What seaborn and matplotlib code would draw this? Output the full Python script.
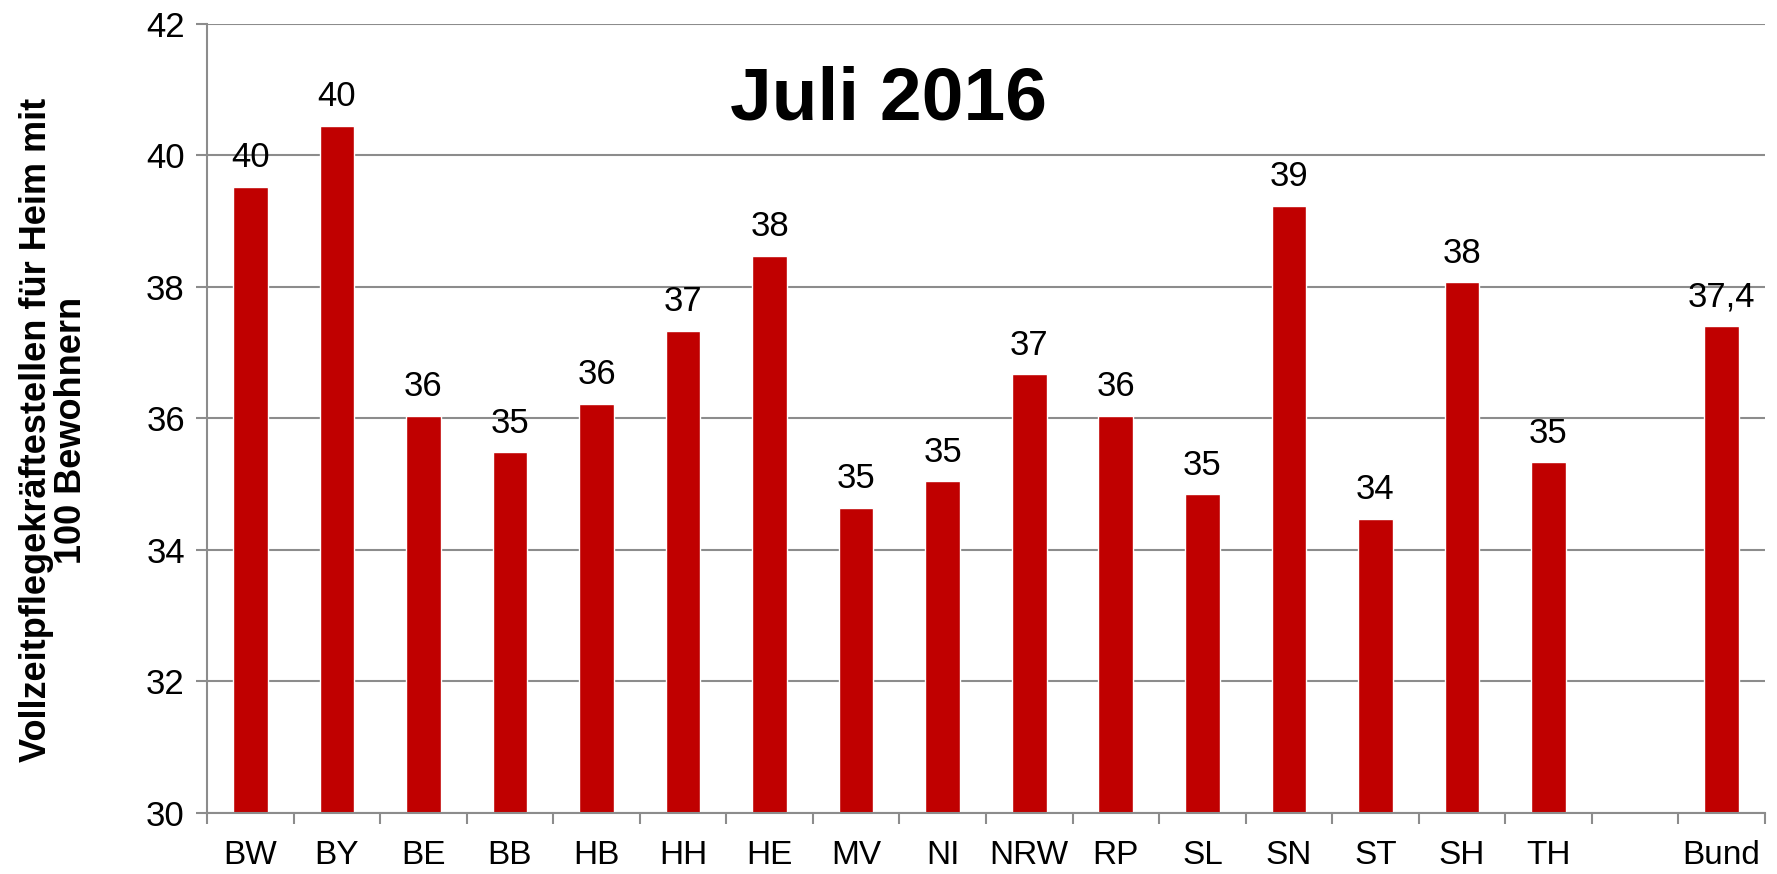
import numpy as np
import pandas as pd
import matplotlib
matplotlib.use("Agg")
import matplotlib.pyplot as plt
import seaborn as sns

# Daten
laender = ["BW", "BY", "BE", "BB", "HB", "HH", "HE", "MV", "NI", "NRW",
           "RP", "SL", "SN", "ST", "SH", "TH", "Bund"]
werte = [39.52, 40.45, 36.04, 35.48, 36.22, 37.33, 38.47, 34.64, 35.04, 36.67,
         36.04, 34.84, 39.23, 34.47, 38.07, 35.33, 37.4]
beschriftung = ["40", "40", "36", "35", "36", "37", "38", "35", "35", "37",
                "36", "35", "39", "34", "38", "35", "37,4"]
reihenfolge = laender[:-1] + [" "] + ["Bund"]  # Lücke vor "Bund"

df = pd.DataFrame({"Land": laender, "Wert": werte})

sns.set_style("white")
plt.rcParams['font.family'] = ['Liberation Sans', 'DejaVu Sans']
plt.rcParams['text.color'] = 'black'
plt.rcParams['xtick.labelcolor'] = 'black'
plt.rcParams['ytick.labelcolor'] = 'black'
plt.rcParams['axes.labelcolor'] = 'black'

fig = plt.figure(figsize=(17.77, 8.74), dpi=100)
ax = fig.add_axes([0.1165, 0.0703, 0.8767, 0.9025])

sns.barplot(data=df, x="Land", y="Wert", order=reihenfolge, color="#C00000",
            saturation=1, width=0.4, ax=ax)

ax.set_ylim(30, 42)
ax.set_yticks(np.arange(30, 43, 2))
ax.set_xlim(-0.5, len(reihenfolge) - 0.5)
ax.yaxis.grid(True, color="#8c8c8c", linewidth=1.5)
ax.set_axisbelow(True)

# Beschriftung der Balken
for land, wert, txt in zip(laender, werte, beschriftung):
    ax.annotate(txt, (reihenfolge.index(land), wert), xytext=(0, 9),
                textcoords="offset points", ha="center", va="bottom",
                fontsize=25, color="black")

# Achsen im Excel-Stil
for s in ["top", "right"]:
    ax.spines[s].set_visible(False)
for s in ["left", "bottom"]:
    ax.spines[s].set_color("#8c8c8c")
    ax.spines[s].set_linewidth(1.5)

ax.set_xticks(range(len(reihenfolge)))
ax.set_xticklabels(["" if r.strip() == "" else r for r in reihenfolge])
ax.set_xticks(np.arange(-0.5, len(reihenfolge), 1), minor=True)
ax.tick_params(axis="x", which="major", length=0, pad=20, labelsize=24)
ax.tick_params(axis="x", which="minor", length=8, width=1.5, color="#8c8c8c",
               direction="out", bottom=True)
ax.tick_params(axis="y", length=8, width=1.5, color="#8c8c8c", pad=8,
               labelsize=25, left=True)

ax.set_xlabel("")
ax.set_ylabel("Vollzeitpflegekräftestellen für Heim mit\n100 Bewohnern",
              fontsize=26, fontweight="bold", linespacing=1.0)
ax.yaxis.set_label_coords(-0.076, 0.485)

fig.text(0.5, 0.863, "Juli 2016", ha="center", va="baseline",
         fontsize=54, fontweight="bold")

fig.savefig("out.png", dpi=100)
